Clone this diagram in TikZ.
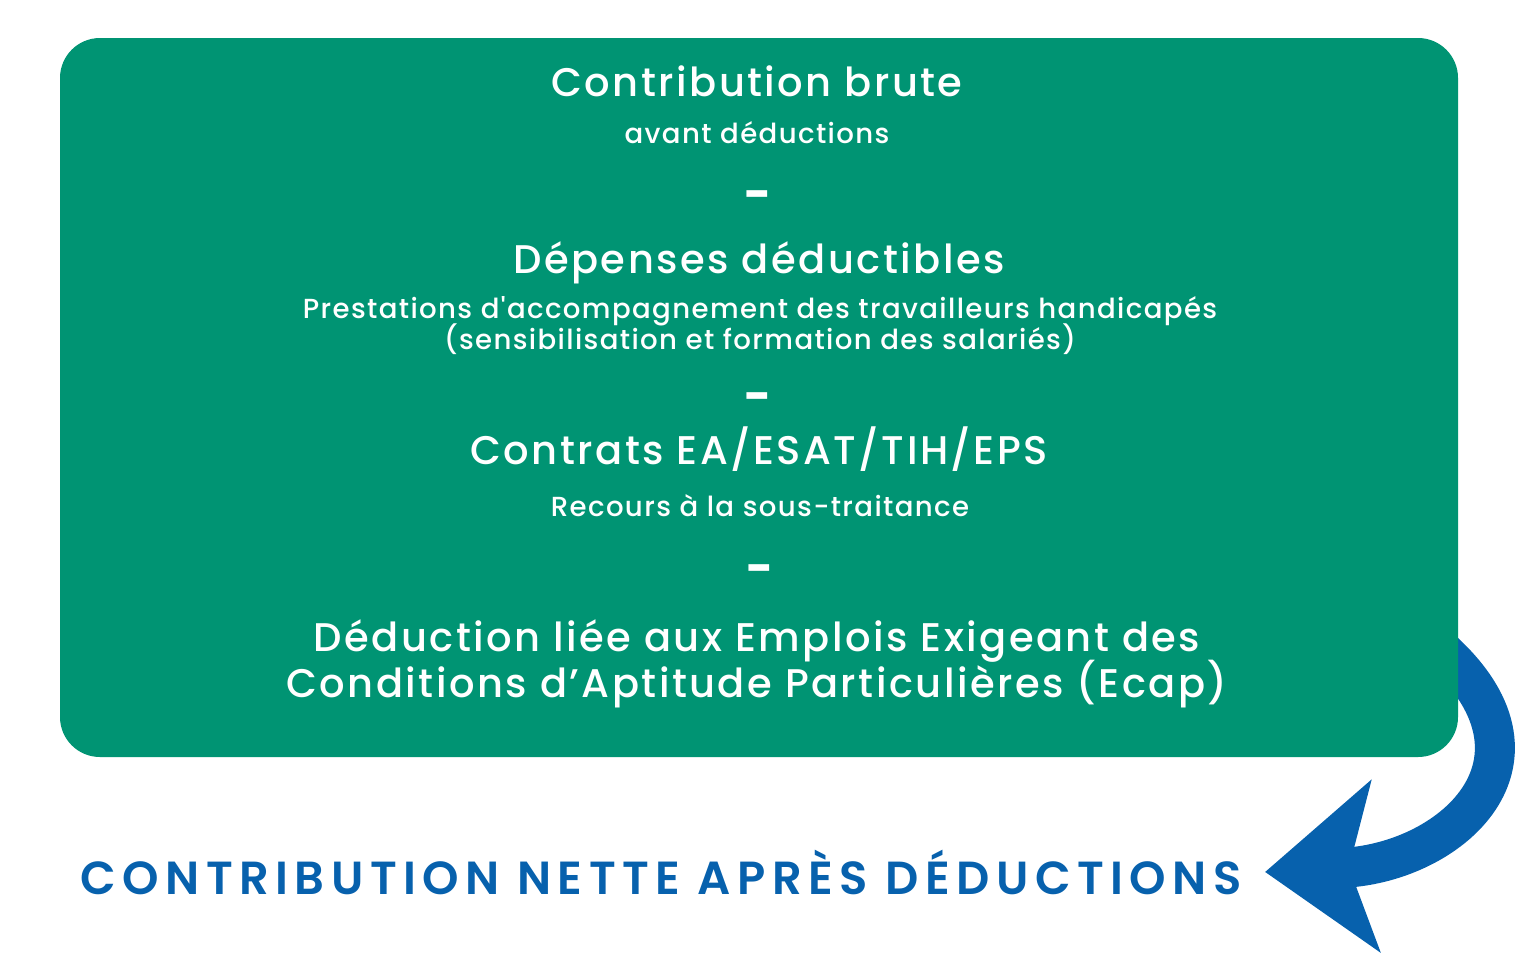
\documentclass[tikz,border=0pt]{standalone}
\usepackage{fontspec}
\setmainfont{Poppins}
\newfontfamily\poppinsmedium{Poppins Medium}
\newfontfamily\poppinssemibold{Poppins SemiBold}
\definecolor{BoxGreen}{HTML}{009473}
\definecolor{ArrowBlue}{HTML}{0761AD}
\usetikzlibrary{arrows.meta, positioning, backgrounds}
\tikzset{
  % Box styles
  mainbox/.style={rectangle, rounded corners=20pt, fill=BoxGreen, minimum width=699pt, minimum height=359.5pt, inner sep=0pt},
  % Text styles
  titletext/.style={font=\poppinsmedium\addfontfeatures{LetterSpace=6.2}\fontsize{20}{22}\selectfont, text=white, anchor=base, align=center, inner sep=0pt},
  subtext/.style={font=\poppinsmedium\addfontfeatures{LetterSpace=5}\fontsize{13.8}{15.5}\selectfont, text=white, anchor=base, align=center, inner sep=0pt},
  minustext/.style={font=\fontsize{23.5}{24}\selectfont\bfseries, text=white, inner sep=0pt},
  resulttext/.style={font=\poppinssemibold\addfontfeatures{LetterSpace=14}\fontsize{23.2}{24}\selectfont, text=ArrowBlue, anchor=base west, inner sep=0pt},
  % Arrow styles
  bigarrow/.style={-{Stealth[length=55pt, width=85pt, inset=13pt]}, line width=20pt, ArrowBlue}
}
\begin{document}
\begin{tikzpicture}[x=0.5pt, y=-0.5pt]
  \useasboundingbox (0,0) rectangle (1525,975);
  % Green box
  \node[mainbox] (box) at (759,397.5) {};

  % Lines of the calculation
  \node[titletext] (brute) at (757,96) {Contribution brute};
  \node[subtext] (avant) at (757,143.5) {avant déductions};
  \node[minustext] (minus1) at (758,201) {-};
  \node[titletext] (depenses) at (759,273) {Dépenses déductibles};
  \node[subtext] (prestations) at (760,349.5) {Prestations d'accompagnement des travailleurs handicapés\\[-2pt](sensibilisation et formation des salariés)};
  \node[minustext] (minus2) at (758,403) {-};
  \node[titletext] (contrats) at (759,464.5) {Contrats EA/ESAT/TIH/EPS};
  \node[subtext] (recours) at (760,516) {Recours à la sous-traitance};
  \node[minustext] (minus3) at (760,575) {-};
  \node[titletext] (ecap) at (757,697) {Déduction liée aux Emplois Exigeant des\\[-2.5pt]Conditions d’Aptitude Particulières (Ecap)};

  % Result
  \node[resulttext] (nette) at (80,894) {CONTRIBUTION NETTE APRÈS DÉDUCTIONS};

  % Curved arrow behind the box
  \coordinate (arrowstart) at ([xshift=-14pt, yshift=58.5pt]box.south east);
  \begin{scope}[on background layer]
    \draw[bigarrow] (arrowstart) .. controls +(140,115) and +(190,-10) .. ([xshift=11.5pt]nette.east);
  \end{scope}
\end{tikzpicture}
\end{document}
